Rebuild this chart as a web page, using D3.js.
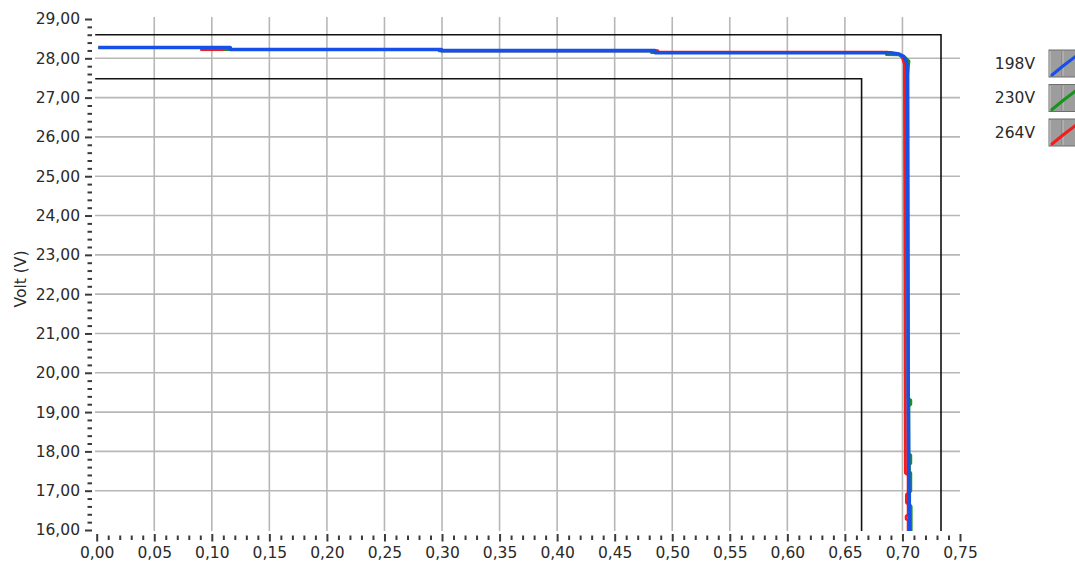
<!DOCTYPE html>
<html>
<head>
<meta charset="utf-8">
<script src="https://cdn.jsdelivr.net/npm/d3@7"></script>
<style>
  html, body { margin: 0; padding: 0; background: #fff; }
  svg { display: block; font-family: "DejaVu Sans", sans-serif; }
</style>
</head>
<body>
<svg id="chart" width="1075" height="562"></svg>
<script>
// ---------- data ----------
const seriesNames = ["198V", "230V", "264V"];
const seriesColors = ["#1750e8", "#17951b", "#f41c1c"];

// 198V (blue)
const cur198 = [0.0015, 0.116, 0.116, 0.2995, 0.2995, 0.485, 0.485, 0.690, 0.697, 0.701, 0.7035, 0.7043, 0.7050, 0.7055, 0.7063];
const volt198 = [28.275, 28.275, 28.225, 28.225, 28.195, 28.195, 28.145, 28.14, 28.11, 28.05, 27.92, 27.70, 19.5, 17.4, 15.9];

// 230V (green)
const cur230 = [0.0015, 0.112, 0.112, 0.2975, 0.2975, 0.482, 0.482, 0.686, 0.686, 0.697, 0.702, 0.7056, 0.7046, 0.7050, 0.7072, 0.7072, 0.7055, 0.7055, 0.7072, 0.7072, 0.7060, 0.7060, 0.7072, 0.7072, 0.7062, 0.7062, 0.7075, 0.7075];
const volt230 = [28.275, 28.275, 28.225, 28.225, 28.195, 28.195, 28.145, 28.145, 28.10, 28.09, 28.03, 27.93, 27.60, 19.35, 19.30, 19.20, 19.15, 17.95, 17.90, 17.70, 17.65, 17.50, 17.45, 17.00, 16.95, 16.65, 16.60, 15.9];

// 264V (red)
const cur264 = [0.0015, 0.091, 0.091, 0.2995, 0.2995, 0.4875, 0.4875, 0.6875, 0.6875, 0.697, 0.700, 0.7018, 0.7018, 0.7026, 0.7050, 0.7050, 0.7035, 0.7035, 0.7050, 0.7050, 0.7033, 0.7033, 0.7050, 0.7050];
const volt264 = [28.275, 28.275, 28.225, 28.225, 28.195, 28.195, 28.155, 28.155, 28.11, 28.10, 28.02, 27.85, 27.50, 17.45, 17.40, 16.95, 16.90, 16.70, 16.65, 16.40, 16.35, 16.28, 16.25, 15.9];

// limit lines (current limit, voltage limit)
const limitCur = [0.7335, 0.6645];
const limitVolt = [28.6, 27.48];

// axes
const xTicks = [0, 0.05, 0.10, 0.15, 0.20, 0.25, 0.30, 0.35, 0.40, 0.45, 0.50, 0.55, 0.60, 0.65, 0.70, 0.75];
const yTicks = [16, 17, 18, 19, 20, 21, 22, 23, 24, 25, 26, 27, 28, 29];
const yLabel = "Volt (V)";

// ---------- drawing ----------
const svg = d3.select("#chart");
const x = d3.scaleLinear().domain([0, 0.75]).range([96.7, 960]);
const y = d3.scaleLinear().domain([16, 29]).range([530, 19]);
const fmt = v => d3.format(".2f")(v).replace(".", ",");
const textColor = "#2a2a2a";
const FS = "15.5px";

// grid
const grid = svg.append("g");
grid.selectAll("line.vg").data(xTicks.filter(t => t > 0 && t < 0.75)).join("line")
  .attr("x1", d => x(d)).attr("x2", d => x(d))
  .attr("y1", 17).attr("y2", 531)
  .attr("stroke", "#b7b7b7").attr("stroke-width", 1.6);
grid.selectAll("line.hg").data(yTicks.filter(t => t > 16 && t < 29)).join("line")
  .attr("x1", 95).attr("x2", 960)
  .attr("y1", d => y(d)).attr("y2", d => y(d))
  .attr("stroke", "#b7b7b7").attr("stroke-width", 1.6);

// limit lines
const limG = svg.append("g");
limitCur.forEach((c, i) => {
  const v = limitVolt[i];
  limG.append("path")
    .attr("d", d3.line()([[x(0) - 1.5, y(v)], [x(c), y(v)], [x(c), y(16) + 1]]))
    .attr("fill", "none").attr("stroke", "#111").attr("stroke-width", 1.6);
});

// clip
svg.append("clipPath").attr("id", "plotclip").append("rect")
  .attr("x", 95).attr("y", 17).attr("width", 866).attr("height", 514);

const line = d3.line().x(d => x(d[0])).y(d => y(d[1]));
const plotG = svg.append("g").attr("clip-path", "url(#plotclip)");
const seriesData = [
  { name: "264V", cur: cur264, volt: volt264, color: seriesColors[2], w: 3 },
  { name: "230V", cur: cur230, volt: volt230, color: seriesColors[1], w: 3 },
  { name: "198V", cur: cur198, volt: volt198, color: seriesColors[0], w: 3.6 }
];
seriesData.forEach(s => {
  plotG.append("path")
    .datum(s.cur.map((c, i) => [c, s.volt[i]]))
    .attr("d", line)
    .attr("fill", "none")
    .attr("stroke", s.color)
    .attr("stroke-width", s.w)
    .attr("stroke-linejoin", "round");
});

// y axis
const yMinor = d3.range(16, 29.001, 0.2).filter(v => Math.abs(v - Math.round(v)) > 1e-6);
const yAxisG = svg.append("g").attr("transform", "translate(92,0)")
  .call(d3.axisLeft(y).tickValues(yTicks).tickSize(7).tickPadding(5).tickFormat(fmt));
yAxisG.select(".domain").remove();
yAxisG.selectAll(".tick line").attr("stroke", "#3a3a3a").attr("stroke-width", 2);
yAxisG.selectAll(".tick text").attr("fill", textColor).style("font-size", FS).style("font-family", "DejaVu Sans");
const yMinorG = svg.append("g").attr("transform", "translate(92,0)")
  .call(d3.axisLeft(y).tickValues(yMinor).tickSize(4.5).tickFormat(""));
yMinorG.select(".domain").remove();
yMinorG.selectAll(".tick line").attr("stroke", "#3a3a3a").attr("stroke-width", 2);

// x axis
const xMinor = d3.range(0, 0.7501, 0.01).filter(v => Math.abs(v / 0.05 - Math.round(v / 0.05)) > 1e-6);
const xAxisG = svg.append("g").attr("transform", "translate(0,534)")
  .call(d3.axisBottom(x).tickValues(xTicks).tickSize(7.5).tickPadding(5.5).tickFormat(fmt));
xAxisG.select(".domain").remove();
xAxisG.selectAll(".tick line").attr("stroke", "#3a3a3a").attr("stroke-width", 2);
xAxisG.selectAll(".tick text").attr("fill", textColor).style("font-size", FS).style("font-family", "DejaVu Sans");
const xMinorG = svg.append("g").attr("transform", "translate(0,535.5)")
  .call(d3.axisBottom(x).tickValues(xMinor).tickSize(4.5).tickFormat(""));
xMinorG.select(".domain").remove();
xMinorG.selectAll(".tick line").attr("stroke", "#3a3a3a").attr("stroke-width", 2);

// y label
svg.append("text")
  .attr("transform", "translate(21,279) rotate(-90)")
  .attr("text-anchor", "middle").attr("dominant-baseline", "central")
  .attr("fill", textColor).style("font-size", FS)
  .text(yLabel);

// legend
const legend = svg.append("g");
seriesNames.forEach((name, i) => {
  const top = 50 + i * 34.5;
  const g = legend.append("g");
  g.append("text")
    .attr("x", 1035).attr("y", top + 13.5)
    .attr("text-anchor", "end").attr("dominant-baseline", "central")
    .attr("fill", textColor).style("font-size", FS)
    .text(name);
  g.append("rect").attr("x", 1049).attr("y", top).attr("width", 32).attr("height", 27)
    .attr("fill", "#9d9d9d").attr("stroke", "#6e6e6e").attr("stroke-width", 1);
  g.append("line").attr("x1", 1050).attr("x2", 1050).attr("y1", top + 1).attr("y2", top + 26)
    .attr("stroke", "#c9c9c9").attr("stroke-width", 1);
  g.append("line").attr("x1", 1062).attr("x2", 1062).attr("y1", top + 1).attr("y2", top + 26)
    .attr("stroke", "#7a7a7a").attr("stroke-width", 1);
  g.append("line").attr("x1", 1063).attr("x2", 1063).attr("y1", top + 1).attr("y2", top + 26)
    .attr("stroke", "#c4c4c4").attr("stroke-width", 1);
  g.append("path")
    .attr("d", d3.line()([[1052, top + 25], [1063, top + 16], [1076, top + 6]]))
    .attr("fill", "none").attr("stroke", seriesColors[i]).attr("stroke-width", 3)
    .attr("stroke-linecap", "round");
});
</script>
</body>
</html>
